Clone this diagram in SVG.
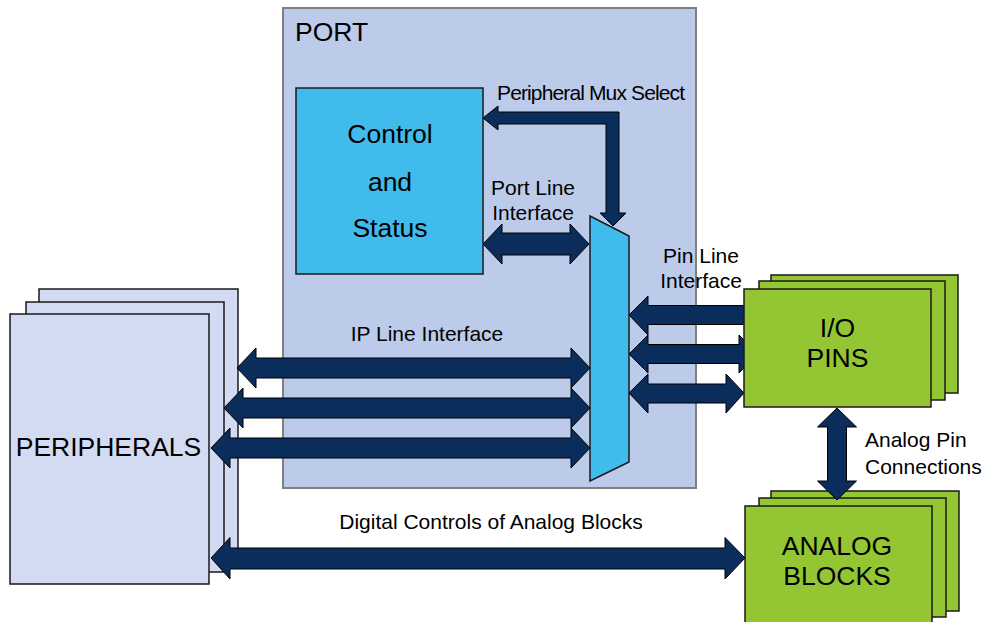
<svg xmlns="http://www.w3.org/2000/svg" width="986" height="622" viewBox="0 0 986 622">
<style>
.port{fill:#BCCBEA;stroke:#7F7F7F;stroke-width:2}
.per{fill:#D3DBF2;stroke:#1a1a1a;stroke-width:1.5}
.blue{fill:#41BBEC;stroke:#1a1a1a;stroke-width:1.5}
.green{fill:#93C632;stroke:#1a1a1a;stroke-width:1.5}
.arr{fill:#0B2D5B;stroke:#000;stroke-width:1}
text{font-family:"Liberation Sans",Arial,sans-serif;fill:#000}
.big{font-size:26.5px}
.sm{font-size:21px}
.c{text-anchor:middle}
</style>
<rect width="986" height="622" fill="#fff"/>
<g id="port">
<rect class="port" x="283" y="8" width="413" height="480"/>
<text class="big" x="295" y="41">PORT</text>
</g>
<g id="peripherals">
<rect class="per" x="39" y="289" width="199" height="271"/>
<rect class="per" x="26" y="302" width="198" height="270"/>
<rect class="per" x="10" y="314" width="199" height="270"/>
<text class="big c" x="108.5" y="456">PERIPHERALS</text>
</g>
<g id="control">
<rect class="blue" x="296" y="88" width="187" height="186"/>
<text class="big c" x="390" y="143">Control</text>
<text class="big c" x="390" y="191">and</text>
<text class="big c" x="390" y="237">Status</text>
</g>
<g id="mux">
<polygon class="blue" points="590,216 629,236 629,462 590,481"/>
</g>
<g id="analog">
<rect class="green" x="771" y="491" width="188" height="120"/>
<rect class="green" x="759" y="498" width="187" height="119"/>
<rect class="green" x="745" y="506" width="187" height="130"/>
<text class="big c" x="837" y="555">ANALOG</text>
<text class="big c" x="837" y="585">BLOCKS</text>
</g>
<g id="connectors">
<polygon class="arr" points="483,118 498,106 498,112 619,112 619,213 626,213 613,226 600,213 606,213 606,124 498,124 498,130"/>
<polygon class="arr" points="483,244 502,224 502,233 570,233 570,224 589,244 570,264 570,255 502,255 502,264"/>
<polygon class="arr" points="237,368 256,348 256,358 571,358 571,348 590,368 571,388 571,378 256,378 256,388"/>
<polygon class="arr" points="224,408 243,388 243,398 571,398 571,388 590,408 571,428 571,418 243,418 243,428"/>
<polygon class="arr" points="211,448 230,428 230,438 571,438 571,428 590,448 571,468 571,458 230,458 230,468"/>
<polygon class="arr" points="629,315 648,296 648,305.5 760,305.5 760,324.5 648,324.5 648,335"/>
<polygon class="arr" points="629,354 648,335 648,344.5 739,344.5 739,335 758,354 739,373 739,363.5 648,363.5 648,373"/>
<polygon class="arr" points="629,393 648,374 648,384 726,384 726,374 744,393 726,413 726,403 648,403 648,413"/>
<polygon class="arr" points="211,558 230,537.5 230,548 725,548 725,537.5 745,558 725,579 725,569 230,569 230,579"/>
<polygon class="arr" points="837,408 856.5,427 846.5,427 846.5,481 856.5,481 837,500 817.5,481 827.5,481 827.5,427 817.5,427"/>
</g>
<g id="io">
<rect class="green" x="771" y="275" width="187" height="118"/>
<rect class="green" x="759" y="281" width="186" height="119"/>
<rect class="green" x="744" y="289" width="187" height="118"/>
<text class="big c" x="837.5" y="337">I/O</text>
<text class="big c" x="837.5" y="367">PINS</text>
</g>
<g id="labels">
<text class="sm" x="497" y="100" textLength="188">Peripheral Mux Select</text>
<text class="sm c" x="533" y="195">Port Line</text>
<text class="sm c" x="533" y="220">Interface</text>
<text class="sm c" x="701" y="263">Pin Line</text>
<text class="sm c" x="701" y="288">Interface</text>
<text class="sm c" x="427" y="341">IP Line Interface</text>
<text class="sm" x="865" y="447">Analog Pin</text>
<text class="sm" x="865" y="474">Connections</text>
<text class="sm c" x="491" y="529">Digital Controls of Analog Blocks</text>
</g>
</svg>
